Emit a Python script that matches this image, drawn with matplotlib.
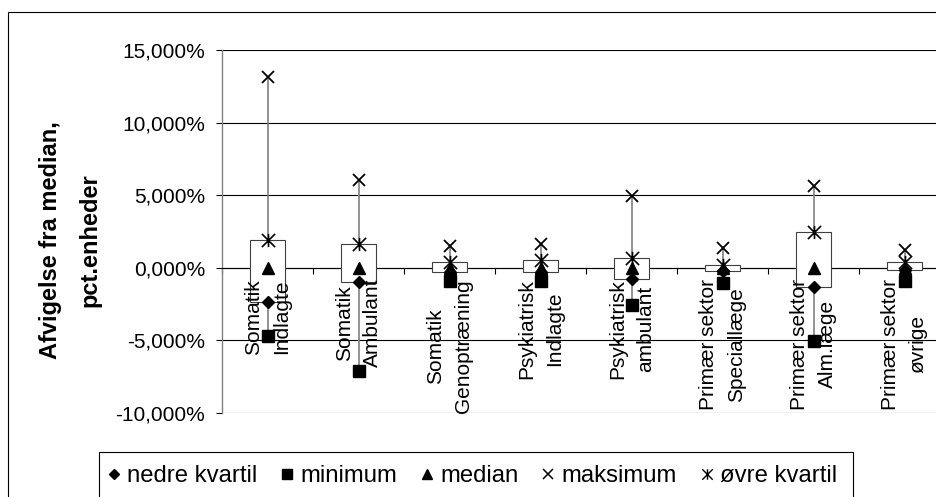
import numpy as np
import matplotlib
matplotlib.use("Agg")
import matplotlib.pyplot as plt
from matplotlib.path import Path
from matplotlib.lines import Line2D
from matplotlib.patches import Rectangle
from matplotlib.ticker import FuncFormatter

plt.rcParams['font.family'] = ['Liberation Sans', 'DejaVu Sans']

# Deviation from the median, in percentage points, per sector
categories = [
    "Somatik\nIndlagte",
    "Somatik\nAmbulant",
    "Somatik\nGenoptræning",
    "Psykiatrisk\nIndlagte",
    "Psykiatrisk\nambulant",
    "Primær sektor\nSpeciallæge",
    "Primær sektor\nAlm.læge",
    "Primær sektor\nøvrige",
]
nedre_kvartil = [-2.35, -0.97, -0.30, -0.30, -0.80, -0.20, -1.35, -0.14]
minimum = [-4.72, -7.08, -0.92, -0.94, -2.54, -1.05, -5.05, -0.90]
median = [0.0, 0.0, 0.0, 0.0, 0.0, 0.0, 0.0, 0.0]
maksimum = [13.16, 6.05, 1.47, 1.65, 4.95, 1.35, 5.64, 1.20]
oevre_kvartil = [1.93, 1.63, 0.38, 0.55, 0.67, 0.20, 2.45, 0.42]
y_ticks = [-10, -5, 0, 5, 10, 15]

W, H = 937, 497
fig = plt.figure(figsize=(W / 100, H / 100), dpi=100)


def fx(px):
    return px / W


def fy(py):
    return 1 - py / H


# plot area runs past the right edge of the canvas
ax = fig.add_axes([fx(222), fy(413), (950 - 222) / W, (413 - 50) / H])
ax.set_xlim(0, len(categories))
ax.set_ylim(-10, 15)

x = np.arange(len(categories)) + 0.5
lo = np.array(nedre_kvartil)
hi = np.array(oevre_kvartil)

# high-low lines and quartile boxes
ax.vlines(x, minimum, maksimum, colors='#808080', lw=1.2, zorder=2)
ax.bar(x, hi - lo, bottom=lo, width=0.375, color='white',
       edgecolor='#404040', lw=0.8, zorder=3)

star = Path([(-1, -1), (1, 1), (-1, 1), (1, -1), (0, -1), (0, 1)],
            [Path.MOVETO, Path.LINETO] * 3)

ax.plot(x, nedre_kvartil, ls='none', marker='D', ms=6, color='black', zorder=5)
ax.plot(x, minimum, ls='none', marker='s', ms=8, color='black', zorder=5)
ax.plot(x, median, ls='none', marker='^', ms=8.5, color='black', zorder=5)
ax.plot(x, maksimum, ls='none', marker='x', ms=9, mew=1.3, color='black', zorder=5)
ax.plot(x, oevre_kvartil, ls='none', marker=star, ms=9.5, mew=1.2,
        color='black', zorder=5)

# axes styling
ax.set_yticks(y_ticks)
ax.yaxis.set_major_formatter(
    FuncFormatter(lambda v, p: f"{v:.3f}".replace('.', ',') + '%'))
ax.tick_params(axis='y', length=4.3, width=0.8, pad=8, labelsize=15,
               color='black')
ax.yaxis.grid(True, color='black', lw=0.8)
ax.set_axisbelow(True)
for s in ('top', 'right'):
    ax.spines[s].set_visible(False)
ax.spines['left'].set_color('#808080')
ax.spines['left'].set_linewidth(1.0)
ax.spines['bottom'].set_position(('data', 0))
ax.spines['bottom'].set_color('black')
ax.spines['bottom'].set_linewidth(0.8)
ax.set_xticks(np.arange(len(categories) + 1))
ax.set_xticklabels([])
ax.tick_params(axis='x', direction='out', length=4, width=0.8)

for xi, lab in zip(x, categories):
    ax.annotate(lab, xy=(xi, 0), xytext=(0, -8), textcoords='offset points',
                rotation=90, ha='center', va='top', multialignment='center',
                fontsize=15, linespacing=1.6, annotation_clip=False, zorder=6)

fig.text(fx(70), fy(240), "Afvigelse fra median,\npct.enheder", rotation=90,
         ha='center', va='center', multialignment='center', fontsize=17,
         fontweight='bold', linespacing=1.9)

# legend
handles = [
    Line2D([], [], ls='none', marker='D', ms=5.5, color='black'),
    Line2D([], [], ls='none', marker='s', ms=6.5, color='black'),
    Line2D([], [], ls='none', marker='^', ms=7, color='black'),
    Line2D([], [], ls='none', marker='x', ms=7, mew=1.1, color='black'),
    Line2D([], [], ls='none', marker=star, ms=7.5, mew=1.0, color='black'),
]
labels = ["nedre kvartil", "minimum", "median", "maksimum", "øvre kvartil"]
fig.legend(handles, labels, loc='center left', bbox_to_anchor=(fx(108), fy(476)),
           ncol=5, frameon=False, fontsize=17.2, handlelength=0.5,
           handletextpad=0.3, columnspacing=1.0, borderpad=0, borderaxespad=0)
fig.add_artist(Rectangle((fx(99), -0.2), fx(853) - fx(99), fy(452) + 0.2,
                         fill=False, lw=0.8, edgecolor='black',
                         transform=fig.transFigure))

# outer chart border
fig.add_artist(Rectangle((fx(8), -0.2), 2, fy(12) + 0.2, fill=False, lw=0.8,
                         edgecolor='black', transform=fig.transFigure))

fig.savefig("out.png", dpi=100)
